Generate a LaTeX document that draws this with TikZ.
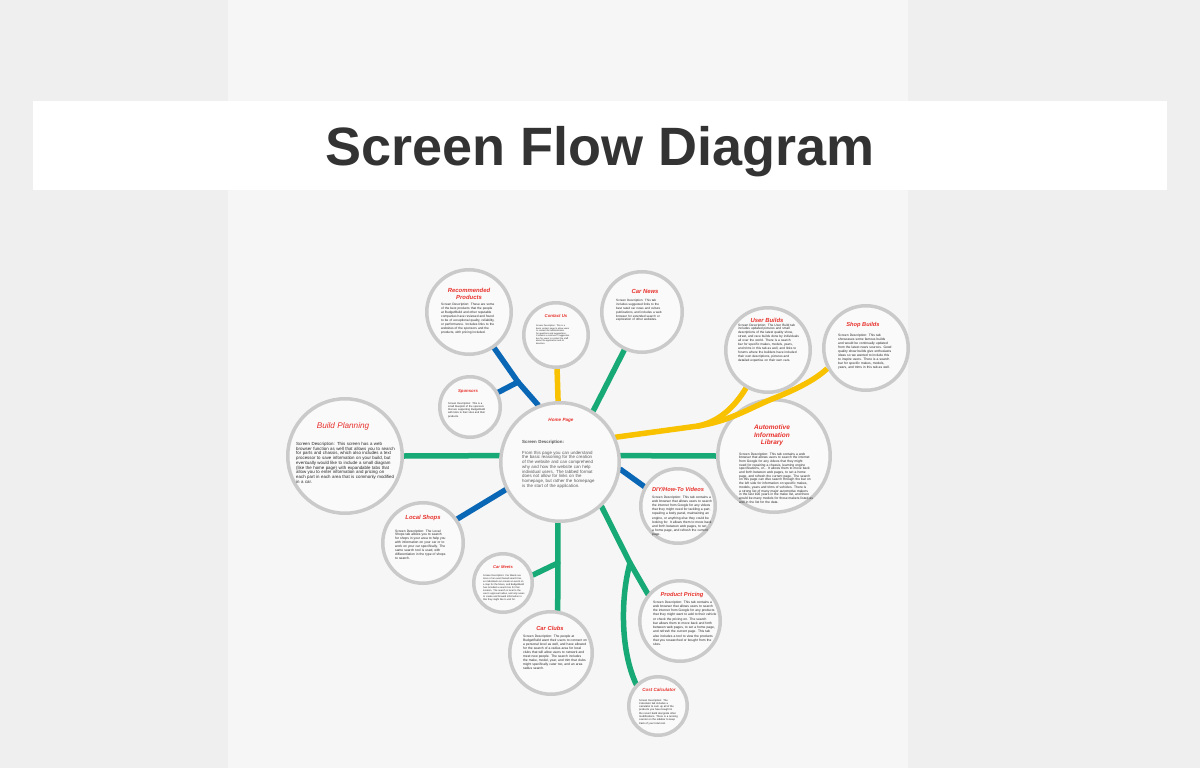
\documentclass[tikz,border=0pt]{standalone}
\usepackage{fontspec}
\setmainfont{Liberation Sans}
\definecolor{paperA}{HTML}{EFEFEF}
\definecolor{paperB}{HTML}{F6F6F6}
\definecolor{ringgray}{HTML}{CACACA}
\definecolor{bubblefill}{HTML}{FAFAFA}
\definecolor{linkblue}{HTML}{0967B5}
\definecolor{linkgreen}{HTML}{17AA76}
\definecolor{linkyellow}{HTML}{F8C200}
\definecolor{titlered}{HTML}{E8312B}
\definecolor{bodyink}{HTML}{262626}
\definecolor{homeink}{HTML}{5A5A5A}
\definecolor{headink}{HTML}{333333}
\pgfdeclarelayer{paper}
\pgfdeclarelayer{links}
\pgfsetlayers{paper,links,main}
\begin{document}
% descriptions are set ragged right without hyphenation
\hyphenpenalty=10000
\exhyphenpenalty=10000
\begin{tikzpicture}[x=1pt,y=-1pt,
  bubble/.style={circle, draw=ringgray, line width=3.5pt, fill=bubblefill,
    inner sep=0pt, minimum size=#1},
  ttl/.style 2 args={text=titlered, font=\bfseries\itshape\fontsize{#1}{#2}\selectfont,
    align=center, inner sep=0pt},
  body/.style n args={3}{text width=#1, font=\fontsize{#2}{#3}\selectfont,
    align=left, anchor=north west, inner sep=0pt, text=bodyink},
  link/.style={draw=#1, line width=5.5pt, line cap=round, line join=round}]

% page and heading band
\begin{pgfonlayer}{paper}
  \fill[paperA] (0,0) rectangle (1200,768);
  \fill[paperB] (228,0) rectangle (908,768);
  \fill[white] (33,101) rectangle (1167,190);
\end{pgfonlayer}
\node[anchor=base, inner sep=0pt, text=headink,
  font=\bfseries\fontsize{54}{60}\selectfont] (heading) at (600,165.5) {Screen Flow Diagram};

% screens
\node[bubble=118.5] (hp)   at (560,462) {};
\node[bubble=84.5]  (rp)   at (469,312) {};
\node[bubble=64.5]  (cu)   at (556,335) {};
\node[bubble=80.5]  (cn)   at (642,312) {};
\node[bubble=60.5]  (sp)   at (470,407) {};
\node[bubble=84.5]  (ub)   at (768,350) {};
\node[bubble=84.5]  (shb)  at (866,348) {};
\node[bubble=114.5] (bp)   at (345,456) {};
\node[bubble=112.5] (ail)  at (774,456) {};
\node[bubble=74.5]  (diy)  at (678,506) {};
\node[bubble=80.5]  (ls)   at (423,543) {};
\node[bubble=58.5]  (cm)   at (503,583) {};
\node[bubble=80.5]  (pp)   at (680,621) {};
\node[bubble=82.5]  (cc)   at (551,653) {};
\node[bubble=58.5]  (cost) at (658,706) {};

% branching points
\coordinate (jblue)   at (518,382);
\coordinate (jyellow) at (698,426);
\coordinate (jmeet)   at (557.8,563);
\coordinate (jprice)  at (630,563);

% connectors
\begin{pgfonlayer}{links}
  \draw[link=linkblue] (hp.111) -- (jblue);
  \draw[link=linkblue] (jblue) -- (rp);
  \draw[link=linkblue] (jblue) -- (sp);
  \draw[link=linkyellow] (hp) -- (cu);
  \draw[link=linkgreen] (hp.57) -- (cn.245);
  \draw[link=linkyellow] (hp.24) -- (jyellow);
  \draw[link=linkyellow] (jyellow) .. controls (718,422) and (734,408) .. (ub.240);
  \draw[link=linkgreen] (hp.174) -- (bp.east);
  \draw[link=linkgreen] (hp.6) -- (ail.west);
  \draw[link=linkblue] (hp.207) -- (ls.35);
  \draw[link=linkblue] (hp.-7) -- (diy.150);
  \draw[link=linkgreen] (hp.268) -- (cc.81);
  \draw[link=linkgreen] (jmeet) -- (cm.15);
  \draw[link=linkgreen] (hp.-47) -- (jprice);
  \draw[link=linkgreen] (jprice) -- (pp.140);
  \draw[link=linkgreen] (jprice) .. controls (620,600) and (621,652) .. (cost.135);
\end{pgfonlayer}
% the Shop Builds branch runs across the gap between User Builds and the library
\draw[link=linkyellow, line cap=butt] (jyellow) .. controls (730,421) and (750,408) .. (772,399)
      .. controls (795,390) and (815,380) .. (shb.208);

% Home Page
\node[ttl={4.6}{5.5}] (hpT) at (561,420) {Home Page};
\node[body={78}{4.4}{4.75}, text=homeink] (hpB) at (522,440)
  {\textbf{Screen Description:}\\[6pt]
   From this page you can understand the basic reasoning for the creation of the website and can comprehend why and how the website can help individual users. The tabbed format does not allow for links on the homepage, but rather the homepage is the start of the application.};

% Recommended Products
\node[ttl={5.9}{7.6}] (rpT) at (469,294) {Recommended\\Products};
\node[body={56}{3.2}{4.0}] (rpB) at (441,302.5)
  {Screen Description: These are some of the best products that the people at BudgetBuild and other reputable companies have reviewed and found to be of exceptional quality, reliability, or performance. Includes links to the websites of the sponsors and the products, with pricing included.};

% Contact Us
\node[ttl={4.3}{5}] (cuT) at (556,316) {Contact Us};
\node[body={36}{2.2}{2.5}] (cuB) at (536,325)
  {Screen Description: This is a basic contact page to allow users to contact the administration for questions and suggestions. Contains a comment / suggestion box for users to contact the staff about the application and its direction.};

% Car News
\node[ttl={5.9}{7}] (cnT) at (645,291) {Car News};
\node[body={48}{3.1}{3.8}] (cnB) at (616,299.5)
  {Screen Description: This tab includes suggested links to the best rated car news and culture publications, and includes a web browser for extended search or exploration of other websites.};

% Sponsors
\node[ttl={4.3}{5}] (spT) at (468,391) {Sponsors};
\node[body={41}{2.6}{3.3}] (spB) at (448,402)
  {Screen Description: This is a small blueprint of the sponsors that are supporting BudgetBuild with links to their sites and their products.};

% User Builds
\node[ttl={5.9}{7}] (ubT) at (767,320) {User Builds};
\node[body={62}{3.2}{3.9}] (ubB) at (738,323.5)
  {Screen Description: The User Build tab includes updated pictures and small descriptions of the latest quality show, street, and race builds done by individuals all over the world. There is a search bar for specific makes, models, years, and trims in this tab as well, and links to forums where the builders have included their own descriptions, pictures and detailed expertise on their own cars.};

% Shop Builds
\node[ttl={5.7}{7}] (shbT) at (863,325) {Shop Builds};
\node[body={55}{3.3}{4.1}] (shbB) at (838,333.5)
  {Screen Description: This tab showcases some famous builds and would be continually updated from the latest news sources. Good quality show builds give enthusiasts ideas so we wanted to include this to inspire users. There is a search bar for specific makes, models, years, and trims in this tab as well.};

% Build Planning
\node[text=titlered, font=\itshape\fontsize{8.2}{10}\selectfont, inner sep=0pt] (bpT) at (343,426) {Build Planning};
\node[body={99}{4.4}{4.75}] (bpB) at (296,442)
  {Screen Description: This screen has a web browser function as well that allows you to search for parts and chassis, which also includes a text processor to save information on your build, but eventually would like to include a small diagram (like the home page) with expandable tabs that allow you to enter information and pricing on each part in each area that is commonly modified in a car.};

% Automotive Information Library
\node[ttl={6.5}{7.5}] (ailT) at (772,435.5) {Automotive\\Information\\Library};
\node[body={74}{3.3}{3.7}] (ailB) at (739,452.5)
  {Screen Description: This tab contains a web browser that allows users to search the internet from Google for any videos that they might need for repairing a chassis, learning engine specifications, or... It allows them to move back and forth between web pages, to set a home page, and refresh the current page. The search on this page can dive search through the bar on the left side for information on specific makes, models, years and trims of vehicles. There is a strong list of many major automotive makers in the last 100 years in the make list, and there would be many models for those makers listed as well in the list for the data.};

% DIY/How-To Videos
\node[ttl={5.7}{7}] (diyT) at (678,489) {DIY/How-To Videos};
\node[body={61}{3.3}{4.2}] (diyB) at (652,495.5)
  {Screen Description: This tab contains a web browser that allows users to search the internet from Google for any videos that they might need for tackling a part, repairing a body panel, maintaining an engine, or anything else they could be looking for. It allows them to move back and forth between web pages, to set a home page, and refresh the current page.};

% Local Shops
\node[ttl={5.9}{7}] (lsT) at (423,518) {Local Shops};
\node[body={55}{3.3}{3.9}] (lsB) at (395,529.5)
  {Screen Description: The Local Shops tab allows you to search for shops in your area to help you with information on your car or to work on your car specifically. The same search tool is used, with differentiation in the type of shops to search.};

% Car Meets
\node[ttl={4.1}{5}] (cmT) at (503,567) {Car Meets};
\node[body={42}{2.4}{2.9}] (cmB) at (483,575)
  {Screen Description: Car Meets are more of an event based search bar, as individuals can create an event on a map for the future, and BudgetBuild has included a search bar for that location. The search is local to the user's approval radius, and only areas to create and forward information in that they might like to visit for.};

% Product Pricing
\node[ttl={5.75}{7}] (ppT) at (682,595) {Product Pricing};
\node[body={64}{3.3}{4.25}] (ppB) at (653,600.5)
  {Screen Description: This tab contains a web browser that allows users to search the internet from Google for any products that they might want to add to their vehicle or check the pricing on. The search bar allows them to move back and forth between web pages, to set a home page, and refresh the current page. This tab also includes a tool to view the products that you researched or bought from the sites.};

% Car Clubs
\node[ttl={5.8}{7}] (ccT) at (550,628) {Car Clubs};
\node[body={65}{3.3}{4.0}] (ccB) at (523,634.5)
  {Screen Description: The people at BudgetBuild want their users to connect on a personal level as well, and have allowed for the search of a radius area for local clubs that will allow users to network and meet new people. The search includes the make, model, year, and trim that clubs might specifically cater too, and an area radius search.};

% Cost Calculator
\node[ttl={4.5}{5.5}] (costT) at (659,690) {Cost Calculator};
\node[body={39}{2.6}{3.3}] (costB) at (639,699)
  {Screen Description: The Calculator tab includes a calculator to sum up all of the products you have bought in the recent build alongside other modifications. There is a running counter on the sidebar to keep track of your total cost.};

\end{tikzpicture}
\end{document}
